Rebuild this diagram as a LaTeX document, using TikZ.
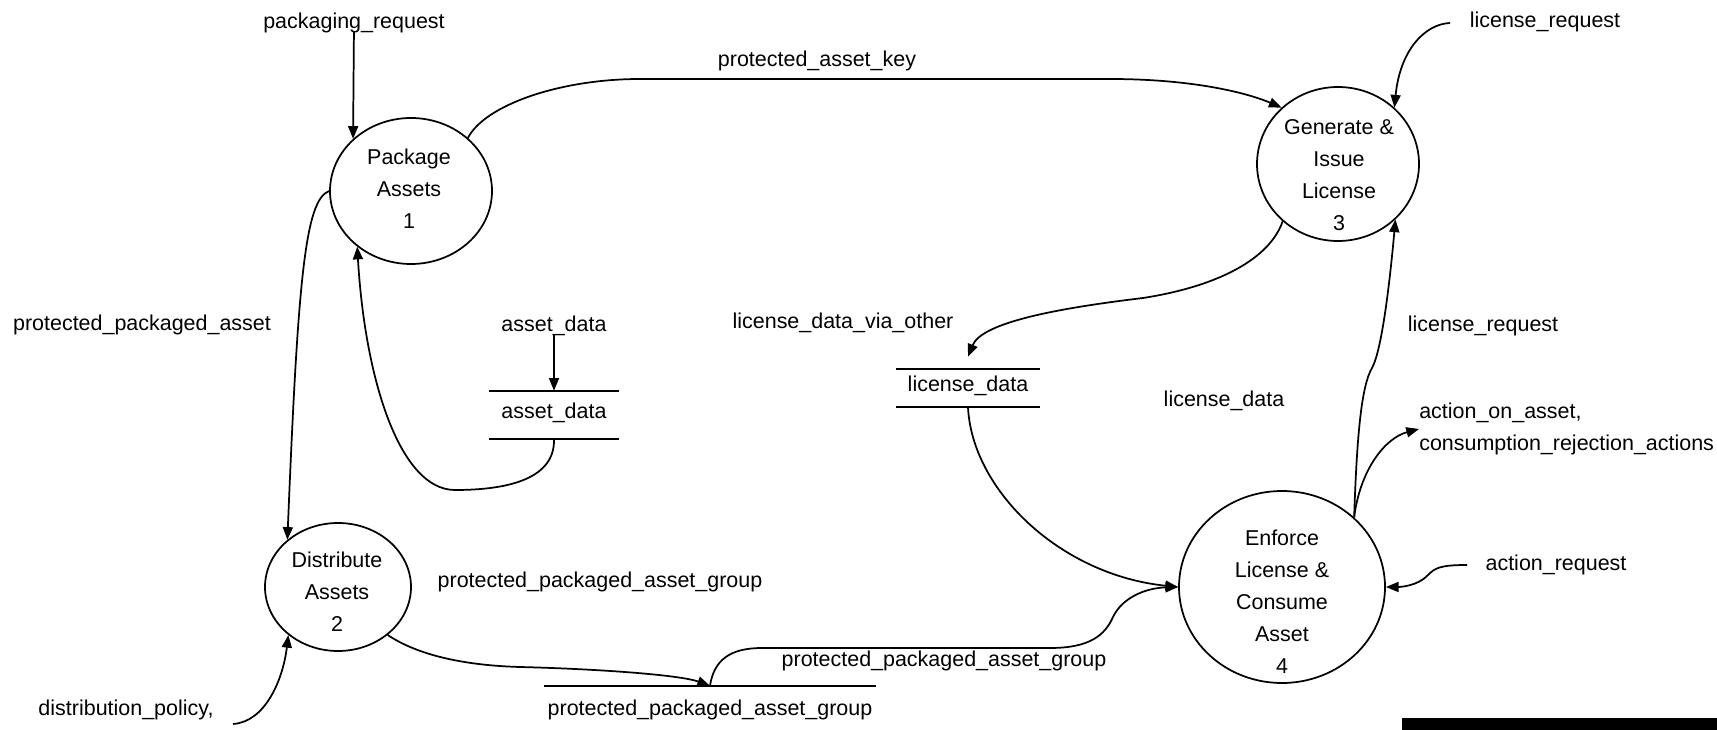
\documentclass[tikz,border=0pt]{standalone}
\usepackage{fontspec}
\setmainfont{Liberation Sans}
\usetikzlibrary{arrows.meta,shapes.geometric}

\tikzset{
  proc/.style={draw, ellipse, line width=1.3pt, inner sep=0pt},
  proctext/.style={inner sep=0pt, align=center},
  flow/.style={line width=1.3pt, -{Triangle[length=9.5pt,width=7.5pt]}},
  lbl/.style={inner sep=0pt, text height=0.72em, text depth=0.22em},
  storeline/.style={line width=1.3pt},
}

\begin{document}
\begin{tikzpicture}[x=0.75pt,y=-0.75pt,font=\fontsize{16.1pt}{24pt}\selectfont]
\useasboundingbox (0,0) rectangle (1717,730);

\node[proc, minimum width=121.5pt, minimum height=109.5pt] (pkg) at (411,191) {};
\node[proc, minimum width=109.5pt, minimum height=96pt] (dist) at (338,587) {};
\node[proc, minimum width=121.5pt, minimum height=115.5pt] (gen) at (1338,164) {};
\node[proc, minimum width=154.5pt, minimum height=144pt] (enf) at (1282,587) {};

\node[proctext] (pkgtxt) at (409,189) {Package\\Assets\\1};
\node[proctext] (disttxt) at (337,592) {Distribute\\Assets\\2};
\node[proctext] (gentxt) at (1339,175) {Generate \&\\Issue\\License\\3};
\node[proctext] (enftxt) at (1282,602) {Enforce\\License \&\\Consume\\Asset\\4};

% data stores
\node[lbl, minimum width=97.5pt, minimum height=36pt] (ad) at (554,415) {asset\_data};
\draw[storeline] (ad.north west) -- (ad.north east) (ad.south west) -- (ad.south east);
\node[lbl, minimum width=108pt, minimum height=28.5pt] (ld) at (968,388) {license\_data};
\draw[storeline] (ld.north west) -- (ld.north east) (ld.south west) -- (ld.south east);
\node[lbl, minimum width=249pt, minimum height=39pt] (ppg) at (710,712) {protected\_packaged\_asset\_group};
\draw[storeline] (ppg.north west) -- (ppg.north east);

\node[lbl] (preq) at (354,25) {packaging\_request};
\node[lbl] (ppa) at (142,327) {protected\_packaged\_asset};
\node[lbl] (adl) at (554,328) {asset\_data};
\node[lbl] (pak) at (817,63) {protected\_asset\_key};
\node[lbl] (ldvo) at (843,325) {license\_data\_via\_other};
\node[lbl] (lrqa) at (1545,24) {license\_request};
\node[lbl] (lrqb) at (1483,328) {license\_request};
\node[lbl] (ldl) at (1224,403) {license\_data};
\node[inner sep=0pt, align=left, anchor=west] (aoa) at (1419,429) {action\_on\_asset,\\consumption\_rejection\_actions};
\node[lbl] (ar) at (1556,567) {action\_request};
\node[lbl] (ppga) at (600,584) {protected\_packaged\_asset\_group};
\node[lbl] (ppgb) at (944,663) {protected\_packaged\_asset\_group};
\node[lbl] (dpol) at (126,712) {distribution\_policy,};

\coordinate (dpolend) at (233,724);
\coordinate (lrqend) at (1450,23);
\coordinate (arend) at (1467,565);

\draw[flow] (preq) -- (pkg.138);
\draw[flow] (adl) -- (ad.north);
\draw[flow] (pkg.43) .. controls (485,105) and (560,79) .. (640,79) -- (1110,79) .. controls (1190,79) and (1245,92) .. (gen.135);
\draw[flow] (pkg.west) .. controls (305,200) and (298,280) .. (dist.137);
\draw[flow] (ad.south) .. controls (555,478) and (510,490) .. (455,490) .. controls (400,490) and (365,380) .. (pkg.226);
\draw[flow] (dpolend) .. controls (265,722) and (283,680) .. (dist.224);
\draw[flow] (dist.-44) .. controls (410,650) and (450,665) .. (520,667) .. controls (600,669) and (680,675) .. (ppg.north);
\draw[flow] (ppg.north) .. controls (714,660) and (730,648) .. (762,648) -- (1050,648) .. controls (1090,648) and (1105,635) .. (1113,617) .. controls (1122,598) and (1145,588) .. (enf.west);
\draw[flow] (ld.south) .. controls (972,490) and (1060,575) .. (enf.west);
\draw[flow] (gen.226) .. controls (1270,258) and (1220,286) .. (1143,298) .. controls (1060,308) and (982,322) .. ([yshift=9pt]ld.north);
\draw[flow] (lrqend) .. controls (1425,24) and (1400,50) .. (gen.45);
\draw[flow] (enf.44) .. controls (1357,430) and (1362,385) .. (1372,368) .. controls (1382,350) and (1390,280) .. (gen.-44);
\draw[flow] (enf.44) .. controls (1360,470) and (1385,438) .. (aoa.west);
\draw[flow] (arend) .. controls (1440,565) and (1435,568) .. (1428,575) .. controls (1418,586) and (1400,587) .. (enf.east);

\fill (1402,718) rectangle (1717,730);

\end{tikzpicture}
\end{document}
